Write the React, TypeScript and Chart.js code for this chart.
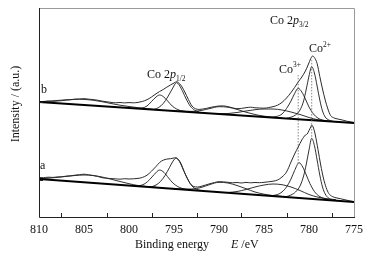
import React, { useEffect, useRef } from "react";
import { Chart, registerables } from "chart.js";

Chart.register(...registerables);

// Axis ticks
const xTickValues = [810, 805, 800, 795, 790, 785, 780, 775];
const xMinorTickValues = [807.5, 802.5, 797.5, 792.5, 787.5, 782.5, 777.5];
const yTickValues = [37, 115];

// Spectrum b (upper) — [binding energy eV, intensity a.u.]
const baselineB = [[810, 115], [775, 94]];
const totalB = [
  [810, 115.5], [809.5, 115.3], [809, 115.9], [808.5, 115.6], [808, 116], [807.5, 116.3], [807, 116.9],
  [806.5, 117.2], [806, 117.8], [805.5, 118], [805, 118.3], [804.5, 117.9], [804, 117.4], [803.5, 116.8],
  [803, 115.9], [802.5, 115.3], [802, 114.6], [801.5, 114.2], [801, 114.5], [800.5, 114.1], [800, 114.4],
  [799.5, 114.2], [799, 114.6], [798.5, 115.6], [798, 117.3], [797.5, 120], [797, 123.2], [796.6, 125.5],
  [796.2, 127.5], [795.8, 129.8], [795.4, 132], [795, 134], [794.7, 135.3], [794.4, 133.5], [794.1, 130],
  [793.8, 125], [793.4, 117.5], [793, 111], [792.6, 108.2], [792.2, 107.6], [791.8, 108], [791.4, 108.6],
  [791, 109.5], [790.5, 110.4], [790, 111], [789.5, 111.1], [789, 110.3], [788.5, 109.2], [788, 108.3],
  [787.5, 108.6], [787, 109.3], [786.5, 109.8], [786, 109.2], [785.5, 109], [785, 108.8], [784.5, 109.4],
  [784, 110.3], [783.5, 111.8], [783, 114.6], [782.5, 119], [782, 124.5], [781.6, 129.5], [781.2, 135],
  [780.8, 140], [780.4, 146], [780.1, 152], [779.8, 158.5], [779.6, 161], [779.4, 159.5], [779.1, 153.5],
  [778.8, 140.5], [778.5, 128], [778.2, 117], [777.9, 108], [777.6, 101.5], [777.2, 99], [776.8, 98],
  [776.3, 97], [775.8, 95.8], [775.3, 95], [775, 94.5],
];
const sat805B = [
  [810, 115.3], [809, 115.8], [808, 116.5], [807, 117.2], [806, 117.7], [805.5, 117.8], [805, 117.6],
  [804, 116.8], [803, 115.3], [802, 113.5], [801, 111.8], [800, 110.5], [799, 109.3], [798, 108.3], [797, 107.5],
];
const p796B = [
  [799, 108.6], [798.5, 109], [798, 111], [797.5, 115.5], [797, 120], [796.6, 122], [796.2, 120.5],
  [795.7, 116], [795.2, 111], [794.7, 108], [794.2, 106.2], [793.5, 105.3],
];
const p795B = [
  [797.2, 107.6], [796.7, 109.5], [796.2, 113.5], [795.7, 120], [795.2, 128], [794.7, 134.3], [794.2, 128.5],
  [793.7, 119], [793.2, 111], [792.7, 106.8], [792.2, 105],
];
const sat790B = [
  [795, 106.1], [794, 105.8], [793, 105.6], [792, 106.5], [791, 108.5], [790, 110.3], [789, 109.8],
  [788, 107.6], [787, 104.8], [786, 102.5], [785, 100.8], [784, 99.9], [783, 99.1],
];
const sat785B = [
  [790, 103.2], [789, 103.5], [788, 104.5], [787, 106], [786, 107.3], [785, 108], [784, 108], [783, 107],
  [782, 105], [781, 102.5], [780, 99.5], [779, 97.2], [778, 96.1],
];
const co3B = [
  [784, 99.8], [783.5, 100.8], [783, 103], [782.5, 108.5], [782, 116], [781.6, 123.5], [781.2, 128.7],
  [780.8, 125], [780.4, 118], [780, 110], [779.5, 103], [779, 98.8], [778.5, 97], [778, 96.1], [777.5, 95.6],
];
const co2B = [
  [782.5, 98.7], [782, 99.8], [781.5, 102], [781, 107], [780.6, 116], [780.3, 128], [780, 141], [779.7, 150.3],
  [779.4, 144], [779.1, 131], [778.8, 117], [778.5, 106], [778.2, 100], [777.8, 97], [777.3, 95.6], [776.8, 95.2],
];

// Spectrum a (lower)
const baselineA = [[810, 38], [775, 15]];
const totalA = [
  [810, 39.5], [809.5, 39.3], [809, 39.8], [808.5, 39.6], [808, 40], [807.5, 40.2], [807, 40.8], [806.5, 41.2],
  [806, 41.8], [805.5, 42.3], [805, 42.8], [804.5, 42.2], [804, 41.5], [803.5, 40.6], [803, 39.3], [802.5, 38.8],
  [802, 38.4], [801.5, 38.2], [801, 37.8], [800.5, 38.3], [800, 38], [799.5, 38.2], [799, 38.6], [798.5, 39.6],
  [798, 41.8], [797.5, 45.8], [797, 50.5], [796.6, 54.5], [796.2, 56.8], [795.8, 57.9], [795.4, 58.3], [795, 59],
  [794.8, 59.3], [794.5, 57.5], [794.2, 53], [793.9, 46], [793.5, 38.5], [793.2, 33.5], [792.8, 30.5],
  [792.4, 30], [792, 30.6], [791.5, 32], [791, 33.3], [790.5, 34.5], [790, 35.3], [789.5, 35.1], [789, 34.7],
  [788.5, 34.2], [788, 34.5], [787.5, 34], [787, 34.6], [786.5, 34.2], [786, 34.5], [785.5, 34.3], [785, 34.7],
  [784.5, 35.2], [784, 35.8], [783.5, 37], [783, 40], [782.5, 45], [782, 55], [781.6, 63], [781.2, 70],
  [780.8, 77], [780.4, 82], [780.2, 83], [780, 86.5], [779.8, 90], [779.7, 92], [779.5, 89], [779.3, 82],
  [779, 67.5], [778.7, 52], [778.4, 39], [778.1, 29.5], [777.8, 23.5], [777.4, 20.5], [777, 19.2],
  [776.5, 18.3], [776, 17.2], [775.5, 16.2], [775, 15.3],
];
const sat805A = [
  [810, 38.3], [809, 38.8], [808, 39.6], [807, 40.6], [806, 41.5], [805, 42], [804, 41.5], [803, 40],
  [802, 37.8], [801, 35.5], [800, 33.3], [799, 31.5], [798, 30.5], [797, 29.8],
];
const p796A = [
  [799.2, 31], [798.7, 31.6], [798.2, 33.5], [797.7, 37.5], [797.2, 42.5], [796.6, 47], [796.1, 44.5],
  [795.6, 39], [795.1, 33.8], [794.6, 30.5], [794.1, 28.6], [793.5, 27.4],
];
const p795A = [
  [797.5, 30.2], [797, 32], [796.5, 35.5], [796, 41.5], [795.5, 49.5], [795.1, 56], [794.8, 58.7],
  [794.4, 55.5], [794, 48], [793.5, 38], [793, 31], [792.5, 27.7], [792, 26.5],
];
const sat790A = [
  [795, 28.3], [794, 27.9], [793, 28], [792, 29.5], [791, 32.5], [790, 34.7], [789, 34], [788, 31.5],
  [787, 28.3], [786, 25], [785, 22.8], [784, 21.4], [783, 20.6],
];
const sat785A = [
  [789, 24.5], [788, 25.5], [787, 27.5], [786, 30], [785, 32], [784, 33], [783, 32.3], [782, 30],
  [781, 26.5], [780, 22.5], [779, 19.8], [778, 18.3], [777, 17.3],
];
const co3A = [
  [784, 21.5], [783.5, 22.5], [783, 25], [782.5, 30], [782, 38], [781.6, 46.5], [781.1, 54.3], [780.7, 50],
  [780.3, 42], [779.9, 33.5], [779.4, 25.5], [778.9, 21], [778.4, 18.8], [777.9, 17.6],
];
const co2A = [
  [782.5, 20.4], [782, 22], [781.5, 25], [781, 31], [780.6, 41], [780.3, 53], [780, 67], [779.7, 78.7],
  [779.4, 71.5], [779.1, 57], [778.8, 42], [778.5, 30], [778.2, 23], [777.8, 18.7], [777.3, 16.8], [776.8, 16.3],
];

// Dotted guide lines at Co3+ and Co2+ positions
const co3Guide = [[781.2, 142], [781.2, 54]];
const co2Guide = [[779.7, 157], [779.7, 79]];

const FONT = '"Liberation Serif", "Times New Roman", serif';

type Part = { t: string; italic?: boolean; sub?: boolean; sup?: boolean };

function drawRich(ctx: CanvasRenderingContext2D, x: number, y: number, parts: Part[], size: number) {
  let cx = x;
  for (const p of parts) {
    const small = p.sub || p.sup;
    const fs = small ? size * 0.62 : size;
    ctx.font = `${p.italic ? "italic " : ""}${fs}px ${FONT}`;
    const dy = p.sub ? size * 0.28 : p.sup ? -size * 0.42 : 0;
    ctx.fillText(p.t, cx, y + dy);
    cx += ctx.measureText(p.t).width;
  }
}

const decorPlugin = {
  id: "decor",
  afterDraw(chart: any) {
    const { ctx, chartArea, scales } = chart;
    const { left, right, top, bottom } = chartArea;
    ctx.save();
    // frame
    ctx.lineWidth = 1;
    ctx.strokeStyle = "#999";
    ctx.beginPath();
    ctx.moveTo(left, top + 0.5);
    ctx.lineTo(right + 0.5, top + 0.5);
    ctx.lineTo(right + 0.5, bottom);
    ctx.stroke();
    ctx.strokeStyle = "#222";
    ctx.beginPath();
    ctx.moveTo(left + 0.5, top);
    ctx.lineTo(left + 0.5, bottom + 0.5);
    ctx.lineTo(right + 1, bottom + 0.5);
    ctx.stroke();
    // inward ticks
    ctx.beginPath();
    for (const v of xMinorTickValues) {
      const px = Math.round(scales.x.getPixelForValue(v)) + 0.5;
      ctx.moveTo(px, bottom);
      ctx.lineTo(px, bottom - 4);
    }
    for (const v of yTickValues) {
      const py = Math.round(scales.y.getPixelForValue(v)) + 0.5;
      ctx.moveTo(left, py);
      ctx.lineTo(left + 4, py);
    }
    ctx.stroke();

    // texts
    ctx.fillStyle = "#111";
    ctx.textBaseline = "alphabetic";
    ctx.textAlign = "left";
    drawRich(ctx, 270, 24, [{ t: "Co 2" }, { t: "p", italic: true }, { t: "3/2", sub: true }], 12);
    drawRich(ctx, 309, 52, [{ t: "Co" }, { t: "2+", sup: true }], 12);
    drawRich(ctx, 279, 72.5, [{ t: "Co" }, { t: "3+", sup: true }], 12);
    drawRich(ctx, 147, 77.5, [{ t: "Co 2" }, { t: "p", italic: true }, { t: "1/2", sub: true }], 12);
    drawRich(ctx, 41, 93, [{ t: "b" }], 12);
    drawRich(ctx, 40, 169, [{ t: "a" }], 12);
    drawRich(ctx, 135, 248, [{ t: "Binding energy" }], 12);
    drawRich(ctx, 231, 248, [{ t: "E", italic: true }, { t: " /eV" }], 12);

    ctx.save();
    ctx.translate(19, 104);
    ctx.rotate(-Math.PI / 2);
    ctx.textAlign = "center";
    ctx.font = `12px ${FONT}`;
    ctx.fillText("Intensity / (a.u.)", 0, 0);
    ctx.restore();
    ctx.restore();
  },
};

const toPts = (arr: number[][]) => arr.map(([x, y]) => ({ x, y }));

function ds(data: number[][], color: string, width: number, dash: number[] = []) {
  return {
    data: toPts(data),
    borderColor: color,
    borderWidth: width,
    borderDash: dash,
    pointRadius: 0,
    fill: false,
    cubicInterpolationMode: "monotone" as const,
  };
}

export default function App() {
  const ref = useRef<HTMLCanvasElement>(null);
  useEffect(() => {
    const comp = "#1a1a1a";
    const tot = "#2a2a2a";
    const chart = new Chart(ref.current!, {
      type: "line",
      data: {
        datasets: [
          ds(co3Guide, "#666", 0.8, [1.5, 1.5]),
          ds(co2Guide, "#666", 0.8, [1.5, 1.5]),
          ds(baselineB, "#000", 2),
          ds(baselineA, "#000", 2),
          ds(totalB, tot, 1),
          ds(totalA, tot, 1),
          ds(sat805B, comp, 0.9),
          ds(p796B, comp, 0.9),
          ds(p795B, comp, 0.9),
          ds(sat790B, comp, 0.9),
          ds(sat785B, comp, 0.9),
          ds(co3B, comp, 0.9),
          ds(co2B, comp, 0.9),
          ds(sat805A, comp, 0.9),
          ds(p796A, comp, 0.9),
          ds(p795A, comp, 0.9),
          ds(sat790A, comp, 0.9),
          ds(sat785A, comp, 0.9),
          ds(co3A, comp, 0.9),
          ds(co2A, comp, 0.9),
        ] as any,
      },
      options: {
        animation: false,
        responsive: false,
        devicePixelRatio: 1,
        layout: { padding: { top: 8, right: 19, left: 0, bottom: 0 } },
        plugins: { legend: { display: false }, tooltip: { enabled: false } },
        scales: {
          x: {
            type: "linear",
            reverse: true,
            min: 775,
            max: 810,
            afterBuildTicks: (s: any) => {
              s.ticks = xTickValues.map((v) => ({ value: v }));
            },
            afterFit: (s: any) => {
              s.height = 43;
            },
            grid: { display: false, drawTicks: false },
            border: { display: false },
            ticks: {
              color: "#111",
              font: { family: FONT, size: 12 },
              padding: 6,
              maxRotation: 0,
              autoSkip: false,
              callback: (v: any) => String(v),
            },
          },
          y: {
            type: "linear",
            min: 0,
            max: 209,
            afterFit: (s: any) => {
              s.width = 39;
            },
            ticks: { display: false },
            grid: { display: false, drawTicks: false },
            border: { display: false },
          },
        },
      },
      plugins: [decorPlugin],
    });
    return () => chart.destroy();
  }, []);
  return (
    <div style={{ position: "fixed", left: 0, top: 0, width: 373, height: 260, background: "#fff" }}>
      <canvas ref={ref} width={373} height={260} style={{ display: "block", width: 373, height: 260 }} />
    </div>
  );
}
